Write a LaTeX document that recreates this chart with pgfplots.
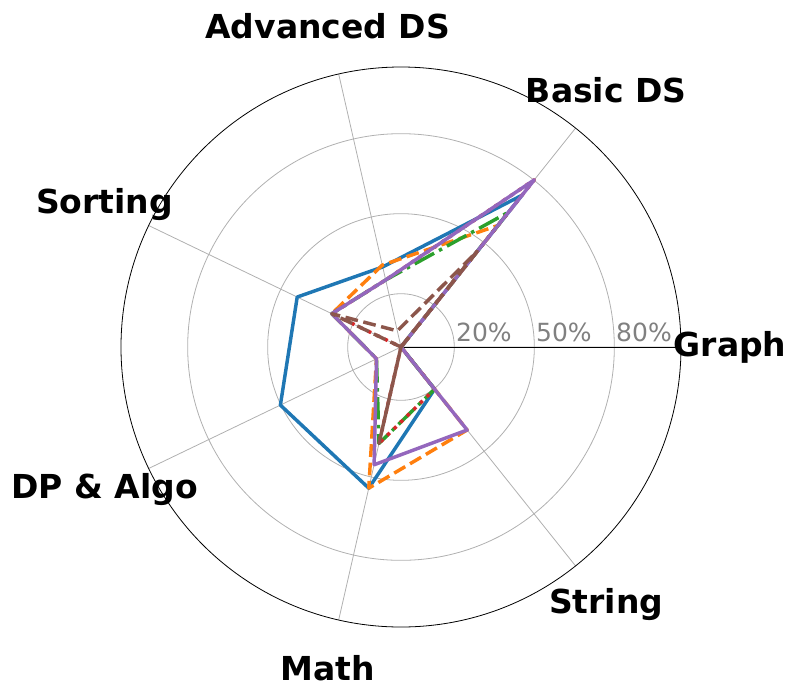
\documentclass[border=0pt]{standalone}
\usepackage{fontspec}
\setmainfont{DejaVu Sans}
\usepackage{pgfplots}
\pgfplotsset{compat=1.18}
\usepgfplotslibrary{polar}

\definecolor{tabblue}{HTML}{1F77B4}
\definecolor{taborange}{HTML}{FF7F0E}
\definecolor{tabgreen}{HTML}{2CA02C}
\definecolor{tabred}{HTML}{D62728}
\definecolor{tabpurple}{HTML}{9467BD}
\definecolor{tabbrown}{HTML}{8C564B}

% angle, value in percent; last row closes the polygon
\pgfplotstableread{
a      v
0      0
51.43  72.8
102.86 30.8
154.29 43.2
205.71 50.2
257.14 54.3
308.57 20.2
360    0
}\blue
\pgfplotstableread{
a      v
0      0
51.43  58.3
102.86 31.5
154.29 28.8
205.71 10.2
257.14 54.3
308.57 39.8
360    0
}\orange
\pgfplotstableread{
a      v
0      0
51.43  64.7
102.86 25.8
154.29 28.8
205.71 10.2
257.14 37.1
308.57 20.2
360    0
}\green
\pgfplotstableread{
a      v
0      0
51.43  80.2
102.86 25.8
154.29 28.8
205.71 0
257.14 37.1
308.57 20.2
360    0
}\red
\pgfplotstableread{
a      v
0      0
51.43  80.2
102.86 25.8
154.29 28.8
205.71 10.2
257.14 45.3
308.57 39.8
360    0
}\purple
\pgfplotstableread{
a      v
0      0
51.43  45.9
102.86 6.2
154.29 28.8
205.71 0
257.14 37.1
308.57 0
360    0
}\brown

\begin{document}
\begin{tikzpicture}
\begin{polaraxis}[
  width=420pt, height=420pt, scale only axis,
  ymin=0, ymax=105,
  xtick={0,51.43,102.86,154.29,205.71,257.14,308.57},
  xticklabels={},
  ytick={20,50,80},
  yticklabels={20\%,50\%,80\%},
  yticklabel style={anchor=south west, text=black!50, inner xsep=1.2pt, inner ysep=3.5pt,
    font=\fontsize{18.75}{19}\selectfont},
  major tick length=0pt,
  xmajorgrids, ymajorgrids,
  grid style={color=black!31, line width=0.6pt},
  axis line style={line width=0.6pt},
  clip=false,
  every axis plot/.append style={line width=2.6pt, line join=round},
]
\addplot[tabblue] table[x=a, y=v] {\blue};
\addplot[taborange, dash pattern=on 9.6pt off 4.2pt] table[x=a, y=v] {\orange};
\addplot[tabgreen, dash pattern=on 16.6pt off 4.2pt on 2.6pt off 4.2pt] table[x=a, y=v] {\green};
\addplot[tabred, dash pattern=on 2.6pt off 4.3pt] table[x=a, y=v] {\red};
\addplot[tabpurple] table[x=a, y=v] {\purple};
\addplot[tabbrown, dash pattern=on 9.6pt off 4.2pt] table[x=a, y=v] {\brown};

\coordinate (c) at (axis cs:0,0);
\begin{scope}[every node/.style={font=\fontsize{24.75}{26}\selectfont\bfseries, anchor=center}]
\node at (axis cs:0,123.4) {Graph};
\node at (axis cs:51.43,123.4) {Basic DS};
\node at (axis cs:102.86,123.4) {Advanced DS};
\node at (axis cs:154.29,123.4) {Sorting};
\node at (axis cs:205.71,123.4) {DP \& Algo};
\node at (axis cs:257.14,123.4) {Math};
\node at (axis cs:308.57,123.4) {String};
\end{scope}
\end{polaraxis}
\pgfresetboundingbox
\path[use as bounding box] (c) ++(-300.75pt,260.25pt) rectangle ++(597pt,-520.5pt);
\end{tikzpicture}
\end{document}
